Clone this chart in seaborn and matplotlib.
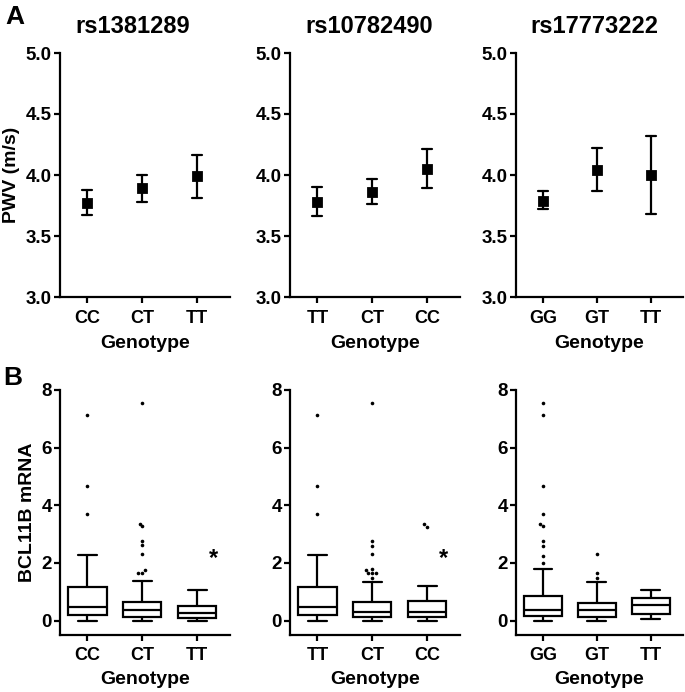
import numpy as np
import pandas as pd
import matplotlib
matplotlib.use("Agg")
import matplotlib.pyplot as plt
import seaborn as sns

# three SNPs, genotype order as in the figure
snps = ["rs1381289", "rs10782490", "rs17773222"]
genotypes = [["CC", "CT", "TT"], ["TT", "CT", "CC"], ["GG", "GT", "TT"]]

# A: PWV (m/s) mean and error bar ends
pwv_mean = [[3.77, 3.89, 3.99], [3.78, 3.86, 4.05], [3.79, 4.04, 4.00]]
pwv_low = [[3.67, 3.78, 3.81], [3.66, 3.76, 3.89], [3.72, 3.87, 3.68]]
pwv_high = [[3.88, 4.00, 4.16], [3.90, 3.97, 4.21], [3.87, 4.22, 4.32]]

# B: BCL11B mRNA box stats (whisker low, q1, median, q3, whisker high)
box_lo = [[0.00, 0.00, 0.00], [0.00, 0.00, 0.00], [0.00, 0.00, 0.06]]
box_q1 = [[0.20, 0.14, 0.08], [0.20, 0.12, 0.14], [0.17, 0.12, 0.23]]
box_med = [[0.46, 0.35, 0.27], [0.46, 0.30, 0.29], [0.35, 0.35, 0.54]]
box_q3 = [[1.18, 0.65, 0.49], [1.18, 0.63, 0.67], [0.85, 0.61, 0.79]]
box_hi = [[2.26, 1.36, 1.07], [2.26, 1.33, 1.21], [1.80, 1.34, 1.07]]

# outliers
fliers = [
    [[7.14, 4.68, 3.69],
     [7.56, 3.36, 3.27, 2.76, 2.63, 2.32, 1.75, 1.65, 1.65],
     []],
    [[7.14, 4.68, 3.69],
     [7.56, 2.76, 2.59, 2.32, 1.78, 1.74, 1.66, 1.65, 1.64, 1.47],
     [3.34, 3.25]],
    [[7.56, 7.14, 4.68, 3.69, 3.34, 3.27, 2.76, 2.59, 2.24, 1.99],
     [2.32, 1.66, 1.47],
     []],
]
star_y = [2.17, 2.17, None]

sns.set_style("ticks")
plt.rcParams['font.family'] = ['Liberation Sans', 'DejaVu Sans']
plt.rcParams['font.weight'] = 'bold'
plt.rcParams['axes.labelweight'] = 'bold'
plt.rcParams['text.color'] = 'black'
plt.rcParams['axes.labelcolor'] = 'black'
plt.rcParams['axes.linewidth'] = 1.6
plt.rcParams['xtick.major.width'] = 1.6
plt.rcParams['ytick.major.width'] = 1.6
plt.rcParams['xtick.major.size'] = 4
plt.rcParams['ytick.major.size'] = 4
plt.rcParams['xtick.color'] = 'black'
plt.rcParams['ytick.color'] = 'black'
plt.rcParams['axes.edgecolor'] = 'black'

fig = plt.figure(figsize=(6.85, 6.92), dpi=100)
W, H = 685.0, 692.0
lefts = [60, 290, 516]
widths = [170, 170, 167]
title_x = [133, 369, 594]

for i in range(3):
    order = genotypes[i]

    # ---- top row: PWV
    ax = fig.add_axes([lefts[i] / W, 1 - 297 / H, widths[i] / W, 244 / H])
    rows = []
    for j, g in enumerate(order):
        for v in (pwv_low[i][j], pwv_mean[i][j], pwv_high[i][j]):
            rows.append({"Genotype": g, "PWV": v})
    df = pd.DataFrame(rows)
    sns.pointplot(data=df, x="Genotype", y="PWV", order=order,
                  estimator="median", errorbar=lambda v: (v.min(), v.max()),
                  color="black", marker="s", markersize=6, linestyle="none",
                  capsize=0.18, err_kws={"linewidth": 1.6}, ax=ax)
    ax.set_ylim(3, 5)
    ax.set_yticks([3.0, 3.5, 4.0, 4.5, 5.0])
    ax.set_yticklabels(["3.0", "3.5", "4.0", "4.5", "5.0"])
    ax.set_xlim(-0.5, 2.6)
    ax.set_xlabel("Genotype", fontsize=14, labelpad=6)
    ax.set_ylabel("PWV (m/s)" if i == 0 else "", fontsize=14)
    ax.tick_params(axis="x", labelsize=13, pad=5)
    ax.tick_params(axis="y", labelsize=13.5, pad=2)
    sns.despine(ax=ax)
    fig.text(title_x[i] / W, 1 - 33 / H, snps[i], fontsize=17,
             fontweight="bold", ha="center", va="baseline")

    # ---- bottom row: BCL11B mRNA
    bx = fig.add_axes([lefts[i] / W, 1 - 635 / H, widths[i] / W, 245 / H])
    rows = []
    for j, g in enumerate(order):
        for v in (box_lo[i][j], box_q1[i][j], box_med[i][j],
                  box_q3[i][j], box_hi[i][j]):
            rows.append({"Genotype": g, "mRNA": v})
    dfb = pd.DataFrame(rows)
    sns.boxplot(data=dfb, x="Genotype", y="mRNA", order=order,
                whis=(0, 100), showfliers=False, width=0.7,
                color="white", linecolor="black", linewidth=1.6, ax=bx)
    frows = []
    for j, g in enumerate(order):
        for v in fliers[i][j]:
            frows.append({"Genotype": g, "mRNA": v})
    dff = pd.DataFrame(frows, columns=["Genotype", "mRNA"])
    sns.swarmplot(data=dff, x="Genotype", y="mRNA", order=order,
                  color="black", size=2.6, ax=bx)
    if star_y[i] is not None:
        bx.text(2.3, star_y[i], "*", fontsize=17, fontweight="bold",
                ha="center", va="center")
    bx.set_ylim(-0.5, 8)
    bx.set_yticks([0, 2, 4, 6, 8])
    bx.set_xlim(-0.5, 2.6)
    bx.set_xlabel("Genotype", fontsize=14, labelpad=5)
    bx.set_ylabel("BCL11B mRNA" if i == 0 else "", fontsize=14)
    bx.tick_params(axis="x", labelsize=13, pad=5)
    bx.tick_params(axis="y", labelsize=13.5, pad=2)
    sns.despine(ax=bx)

fig.text(5 / W, 1 - 24 / H, "A", fontsize=19, fontweight="bold")
fig.text(3 / W, 1 - 385 / H, "B", fontsize=19, fontweight="bold")

fig.savefig("out.png", dpi=100)
